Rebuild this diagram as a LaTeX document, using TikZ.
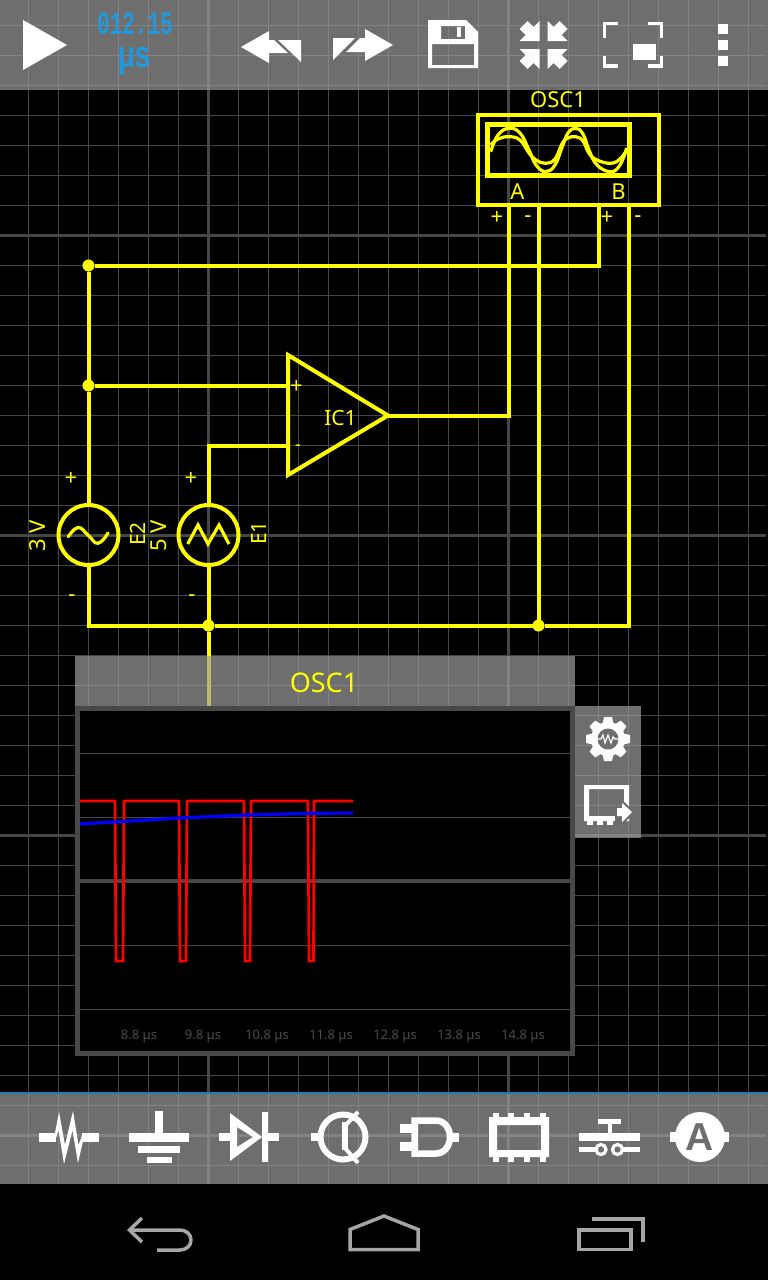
\documentclass[tikz,border=0pt]{standalone}
\usepackage{fontspec}
\setmainfont{Noto Sans}
\newfontfamily\lcdfont{Liberation Mono}
\newfontfamily\ammfont{Liberation Sans}
\definecolor{wirec}{HTML}{FFFF00}
\definecolor{gridc}{HTML}{464646}
\definecolor{barc}{HTML}{9D9D9D}
\definecolor{flatc}{HTML}{6E6E6E}
\definecolor{framec}{HTML}{484848}
\definecolor{navc}{HTML}{A6A6A6}
\definecolor{lcdc}{HTML}{2299DD}
\definecolor{edgec}{HTML}{1A7FB5}
\definecolor{tickc}{HTML}{4C4C4C}
\tikzset{
  minorline/.style={gridc,line width=1pt},
  majorline/.style={gridc,line width=3pt},
  wire/.style={wirec,line width=4pt,line join=miter},
  dotnode/.style={circle,fill=wirec,minimum size=12pt,inner sep=0pt,outer sep=0pt},
  source/.style={circle,draw=wirec,line width=4pt,minimum size=60pt,inner sep=0pt,outer sep=0pt},
  lab/.style={text=wirec,inner sep=0pt,font=\fontsize{22}{24}\selectfont},
  labr/.style={lab,rotate=90},
  barfill/.style={fill=barc,fill opacity=.7},
  icon/.style={fill=white},
  iconline/.style={draw=white},
  nav/.style={draw=navc,line width=3.5pt},
  timelab/.style={text=tickc,inner sep=0pt,font=\fontsize{13}{15}\selectfont},
  scopeline/.style={gridc,line width=1pt}
}
\begin{document}
\begin{tikzpicture}[x=1pt,y=-1pt]
\useasboundingbox (0,0) rectangle (768,1280);
\fill[black] (0,0) rectangle (768,1280);
% grid
\foreach \gx in {28.5,58.5,...,748.5} \draw[minorline] (\gx,0) -- (\gx,1184);
\foreach \gy in {25.5,55.5,...,1165.5} \draw[minorline] (0,\gy) -- (766,\gy);
\foreach \gx in {208.5,508.5} \draw[majorline] (\gx,0) -- (\gx,1184);
\foreach \gy in {235.5,535.5,835.5,1135.5} \draw[majorline] (0,\gy) -- (766,\gy);

% oscilloscope symbol
\node[draw=wirec,line width=3.5pt,minimum width=181pt,minimum height=90pt,inner sep=0pt,outer sep=0pt] (osc) at (568.5,160) {};
\node[draw=wirec,line width=5pt,minimum width=142pt,minimum height=51.5pt,inner sep=0pt,outer sep=0pt] (screen) at (558.5,150.2) {};
\draw[wirec,line width=3.2pt] plot[smooth,tension=.7] coordinates {(490.7,151.7) (498,135) (509,128.3) (520,133) (529,150) (536,165) (545.7,171.7) (555,165) (562.3,146.7) (568,133) (575.7,128.3) (583,134) (589,150) (597,165) (610.7,171.7) (620,165) (626.7,148)};
\draw[wirec,line width=3.2pt] plot[smooth,tension=.7] coordinates {(490.7,145) (498,139) (509,136.7) (520,140) (529,153) (536,160) (545.7,163.3) (555,159) (562.3,143.3) (568,138) (575.7,136.7) (583,141) (589,153.3) (597,160) (610.7,163.3) (620,159) (626.7,150)};
\node[lab] (osclabel) at (558,100) {OSC1};
\node[lab] (pina) at (517.5,192) {A};
\node[lab] (pinb) at (618.5,192) {B};
\node[lab] (plusa) at (497,218) {+};
\node[lab] (minusa) at (528,219) {-};
\node[lab] (plusb) at (607,218) {+};
\node[lab] (minusb) at (638,219) {-};
\coordinate (pa) at (508.5,205);
\coordinate (ma) at (538.5,205);
\coordinate (pb) at (598.5,205);
\coordinate (mb) at (628.5,205);

% sources
\node[source] (E2) at (88.5,535) {};
\node[source] (E1) at (208.5,535) {};
\draw[wirec,line width=3.2pt,line cap=round] plot[smooth,tension=.8] coordinates {(68.3,536.7) (78,527.5) (88,535) (98,543.3) (108,533)};
\draw[wirec,line width=3.2pt,line join=miter] (187.7,544) -- (198,525) -- (208,544) -- (219,525) -- (229,544);
\node[labr] (lab3v) at (38,536) {3 V};
\node[labr,font=\fontsize{21}{24}\selectfont] (labe2) at (138,534) {E2};
\node[labr] (lab5v) at (158.5,536) {5 V};
\node[labr,font=\fontsize{21}{24}\selectfont] (labe1) at (259,533) {E1};
\node[lab] (plus2) at (71,478.5) {+};
\node[lab] (plus1) at (191,478.5) {+};
\node[lab] (minus2) at (72,598) {-};
\node[lab] (minus1) at (192,598) {-};

% op amp
\coordinate (ictl) at (288,355);
\coordinate (icbl) at (288,475);
\coordinate (icout) at (388,415.5);
\coordinate (icplus) at (288,385.5);
\coordinate (icminus) at (288,445.5);
\draw[wire] (ictl) -- (icout) -- (icbl) -- cycle;
\node[lab] (opplus) at (296.5,387) {+};
\node[lab,font=\fontsize{18}{20}\selectfont] (opminus) at (298,448) {-};
\node[lab,font=\fontsize{21}{24}\selectfont] (iclabel) at (340.5,417.5) {IC1};

% junctions
\node[dotnode] (j1) at (88.5,265.5) {};
\node[dotnode] (j2) at (88.5,385.5) {};
\node[dotnode] (j3) at (208.5,625.5) {};
\node[dotnode] (j4) at (538.5,625.5) {};
\coordinate (cbl) at (88.5,625.5);
\coordinate (cbr) at (628.5,625.5);
\coordinate (stub) at (208.5,706);

% wires
\draw[wire] (pb) |- (j1);
\draw[wire] (j1) -- (j2);
\draw[wire] (j2) -- (E2.north);
\draw[wire] (j2) -- (icplus);
\draw[wire] (E1.north) |- (icminus);
\draw[wire] (icout) -| (pa);
\draw[wire] (ma) -- (j4);
\draw[wire] (mb) -- (cbr) -- (j4);
\draw[wire] (j4) -- (j3);
\draw[wire] (j3) -- (cbl) -- (E2.south);
\draw[wire] (E1.south) -- (j3);
\draw[wire] (j3) -- (stub);

% bars
\fill[barfill] (0,0) rectangle (768,90);
\fill[barfill] (0,1094) rectangle (768,1184);
\fill[edgec] (0,1092) rectangle (768,1094.4);

% top toolbar
\fill[icon] (23,20) -- (67,45) -- (23,70) -- cycle;
\node[text=lcdc,inner sep=0pt] (lcdtime) at (135,24) {\lcdfont\bfseries\fontsize{21}{24}\selectfont\scalebox{1}[1.55]{012.15}};
\node[text=lcdc,inner sep=0pt] (lcdunit) at (135,61) {\lcdfont\bfseries\fontsize{28}{30}\selectfont\scalebox{1}[1.35]{µs}};
\fill[icon] (241,47) -- (269,31) -- (269,40) -- (274,40) -- (288,53) -- (269,53) -- (269,63) -- cycle;
\fill[icon] (278,40) -- (301,40) -- (301,62) -- cycle;
\fill[icon] (393,45) -- (365,29) -- (365,38) -- (360,38) -- (346,52) -- (365,52) -- (365,61) -- cycle;
\fill[icon] (333,38) -- (355,38) -- (333,60) -- cycle;
\fill[icon,even odd rule] (428,20) -- (466,20) -- (478,32) -- (478,68) -- (428,68) -- cycle
  (441,26) rectangle (465,39) (432,44) rectangle (474,65);
\fill[icon] (457,27) rectangle (461,37);
\foreach \sx/\sy in {1/1,-1/1,1/-1,-1/-1}
  \fill[icon,shift={(543.5,45)},xscale=\sx,yscale=\sy] (4,4) -- (24,4) -- (18,10) -- (24,16) -- (16,24) -- (10,18) -- (4,24) -- cycle;
\draw[white,line width=3.5pt] (618,23.5) -- (604.5,23.5) -- (604.5,38);
\draw[white,line width=3.5pt] (648,23.5) -- (661.5,23.5) -- (661.5,38);
\draw[white,line width=3.5pt] (604.5,56) -- (604.5,66) -- (618,66);
\draw[white,line width=3.5pt] (648,66) -- (661.5,66) -- (661.5,56);
\fill[icon] (633,44) rectangle (656,60);
\fill[icon] (718,24) rectangle (728,34);
\fill[icon] (718,40) rectangle (728,50);
\fill[icon] (718,56) rectangle (728,66);

% scope panel
\fill[barfill] (75,656) rectangle (575,706);
\node[text=wirec,inner sep=0pt,font=\fontsize{27}{29}\selectfont] (paneltitle) at (324,682.5) {OSC1};
\fill[barfill] (575,706) rectangle (641,838);
\node[fill=black,draw=framec,line width=5pt,minimum width=495pt,minimum height=345pt,inner sep=0pt,outer sep=0pt] (scope) at (325,881) {};
\foreach \ly in {753.5,817.5,945.5,1009.5} \draw[scopeline] (80,\ly) -- (570,\ly);
\draw[framec,line width=4pt] (80,881) -- (570,881);
\foreach \tx/\tl in {139/8.8,203/9.8,267/10.8,331/11.8,395/12.8,459/13.8,523/14.8}
  \node[timelab] at (\tx,1036) {\tl{} µs};
\draw[red,line width=2.7pt,line join=miter] (80,801) -- (115,801) -- (116,961) -- (123,961) -- (124,801) -- (179,801) -- (180,961) -- (186,961) -- (187,801) -- (244,801) -- (245,961) -- (250,961) -- (251,801) -- (308,801) -- (309,961) -- (313.5,961) -- (314,801) -- (353,801);
\draw[blue,line width=3.2pt] (80,824) -- (180,818) -- (247,815) -- (310,813.3) -- (353,813);

% panel buttons
\foreach \ga in {0,45,...,315}
  \fill[white,rotate around={\ga:(608,739)}] (604,717) -- (612,717) -- (614,726) -- (602,726) -- cycle;
\fill[white] (608,739) circle (17);
\fill[flatc] (608,739) circle (10.5);
\draw[white,line width=1.2pt] (597,739) -- (601,739) -- (603,735) -- (605,743) -- (608,735) -- (611,743) -- (613,737) -- (615,739) -- (619,739);
\fill[icon,even odd rule] (584,785) rectangle (629,821) (589,789) rectangle (624,816);
\foreach \bx in {587,597,607,617} \fill[icon] (\bx,821) rectangle (\bx+5.5,825);
\fill[flatc] (615,806) -- (621,806) -- (621,799) -- (635,812) -- (621,826) -- (615,826) -- cycle;
\fill[icon] (617,808) -- (622,808) -- (622,803) -- (632,812) -- (622,822) -- (622,816) -- (617,816) -- cycle;

% bottom toolbar
\fill[icon] (39,1132.5) rectangle (56,1141.5);
\fill[icon] (82,1132.5) rectangle (99,1141.5);
\fill[icon] (55,1133) -- (59,1112) -- (65,1145) -- (73,1111) -- (78.5,1145) -- (83,1133) -- (83,1141) -- (78,1163) -- (72.5,1130) -- (64,1164) -- (58.5,1130) -- (55,1141) -- cycle;
\fill[icon] (155,1111) rectangle (163,1133);
\fill[icon] (129,1133) rectangle (189,1142);
\fill[icon] (138,1146) rectangle (180,1152.5);
\fill[icon] (147,1157) rectangle (172,1163);
\fill[icon] (219,1133) rectangle (231,1141);
\fill[icon] (267,1133) rectangle (279,1141);
\fill[icon,even odd rule] (230,1113) -- (262,1137) -- (230,1161) -- cycle (237,1127) -- (253,1137) -- (237,1147) -- cycle;
\fill[icon] (262,1112) rectangle (268,1162);
\fill[icon] (311,1133) rectangle (320,1141);
\draw[white,line width=6pt] (343,1137) circle (22.5);
\draw[white,line width=5.5pt] (345,1122) -- (345,1150);
\draw[white,line width=4pt] (345,1126) -- (358,1112);
\draw[white,line width=4pt] (345,1148) -- (358,1163);
\fill[icon] (400,1124) rectangle (412,1133);
\fill[icon] (400,1142) rectangle (412,1151);
\draw[white,line width=6.5pt] (414.5,1120.5) -- (436,1120.5) .. controls (445,1120.5) and (450,1129) .. (450,1137) .. controls (450,1145) and (445,1153.5) .. (436,1153.5) -- (414.5,1153.5) -- cycle;
\fill[icon] (451,1133) rectangle (459,1142);
\fill[icon,even odd rule] (489,1117) rectangle (549,1157) (497,1125) rectangle (541,1150);
\foreach \cx in {493,508,524,540} {
  \fill[icon] (\cx,1113) rectangle (\cx+6,1117);
  \fill[icon] (\cx,1157) rectangle (\cx+6,1162);
}
\fill[icon] (598,1119) rectangle (621,1124);
\fill[icon] (608,1124) rectangle (612,1133);
\fill[icon] (579,1133) rectangle (640,1141);
\fill[icon] (579,1147) rectangle (597,1152);
\fill[icon] (622,1147) rectangle (640,1152);
\draw[white,line width=3.2pt] (601,1149.5) circle (5);
\draw[white,line width=3.2pt] (617.5,1149.5) circle (5);
\fill[icon] (670,1132) rectangle (729,1142);
\node[circle,fill=white,minimum size=50pt,inner sep=0pt,text=flatc,font=\ammfont\bfseries\fontsize{39}{41}\selectfont] (amm) at (700,1137) {A};

% navigation
\draw[nav] (142,1218) -- (129.5,1230) -- (142,1242);
\draw[nav] (129.5,1230) -- (180,1230) .. controls (186,1230) and (191,1234) .. (191,1240) .. controls (191,1246) and (186,1250) .. (180,1250) -- (157,1250);
\draw[nav,line join=miter] (350,1229.5) -- (384,1216) -- (418,1229.5) -- (418,1249.5) -- (350,1249.5) -- cycle;
\draw[nav] (579,1230) rectangle (631,1249.5);
\draw[nav,line join=miter] (592,1219) -- (643,1219) -- (643,1242);
\end{tikzpicture}
\end{document}
